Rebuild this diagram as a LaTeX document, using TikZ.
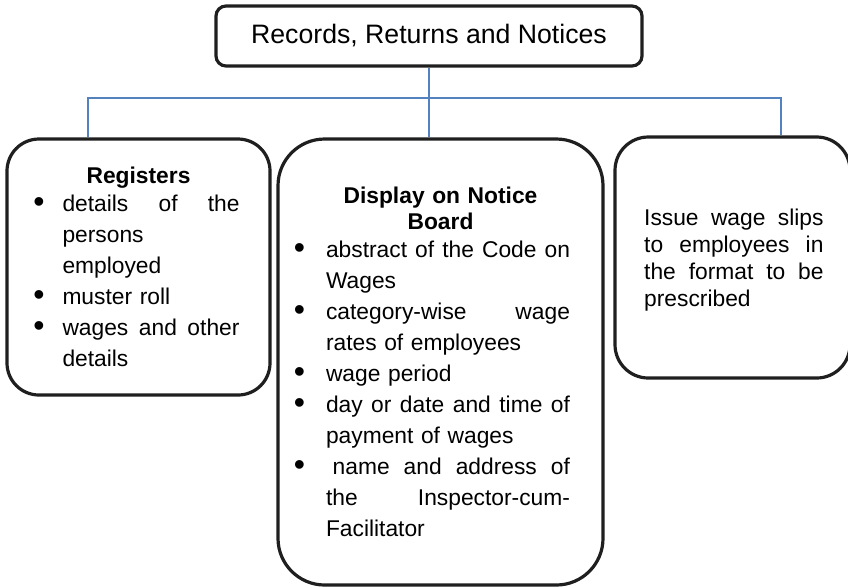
\documentclass[tikz,border=0pt]{standalone}
\usepackage{fontspec}
\setmainfont{Liberation Sans}
\usepackage{enumitem}
\usepackage{tikz}
\usetikzlibrary{backgrounds}

\newcommand\bodyfont{\fontsize{17.1}{23.25}\selectfont}
\newcommand\headgap[1]{\par\prevdepth=\dimexpr\prevdepth+#1\relax}
\newcommand\bigbullet{\raisebox{-0.6pt}{\fontsize{24}{24}\selectfont\textbullet}}
\setlist[itemize]{label=\bigbullet, itemsep=0pt, parsep=0pt, topsep=0pt, partopsep=0pt}

\begin{document}
\begin{tikzpicture}[x=0.75pt,y=-0.75pt,
    box/.style={draw=black!88, line width=2.4pt, inner sep=0pt, font=\bodyfont},
    link/.style={draw={rgb,255:red,84;green,130;blue,190}, line width=1.1pt}]
    \useasboundingbox (0,0) rectangle (848,587);

    % Title
    \node[box, rounded corners=7.5pt, minimum width=319.5pt, minimum height=45pt,
          font=\fontsize{20}{23}\selectfont] (title) at (429,36) {Records, Returns and Notices};

    % Registers
    \node[box, rounded corners=24pt, minimum width=197.25pt, minimum height=192pt,
          text width=151.5pt] (regs) at (138.5,267) {%
        {\centering\bfseries Registers\par}\headgap{2pt}
        \begin{itemize}[leftmargin=18.75pt, labelsep=13.5pt]
            \item details\hfill of\hfill the\\ persons\\ employed
            \item muster roll
            \item wages\hfill and\hfill other\\ details
        \end{itemize}};

    % Display on Notice Board
    \node[box, rounded corners=35pt, minimum width=243.75pt, minimum height=334.5pt,
          text width=213.75pt] (dnb) at (440.5,362) {%
        {\centering\bfseries\fontsize{17.1}{19.5}\selectfont Display on Notice\\ Board\par}\headgap{2pt}
        \begin{itemize}[leftmargin=21pt, labelsep=15.75pt, rightmargin=9.75pt]
            \item abstract\hfill of\hfill the\hfill Code\hfill on\\ Wages
            \item category-wise\hfill wage\\ rates of employees
            \item wage period
            \item day\hfill or\hfill date\hfill and\hfill time\hfill of\\ payment of wages
            \item \hspace*{5pt}name\hfill and\hfill address\hfill of\\ the\hfill Inspector-cum-\\ Facilitator
        \end{itemize}};

    % Wage slips
    \node[box, rounded corners=25pt, minimum width=176.25pt, minimum height=180.75pt,
          text width=136.5pt, font=\fontsize{17.1}{20.25}\selectfont] (slips) at (732.5,257.5) {%
        \hspace*{2pt}\rule{0pt}{17pt}Issue\hfill wage\hfill slips\\ \hspace*{2pt}to\hfill employees\hfill in\\
        \hspace*{2pt}the\hfill format\hfill to\hfill be\\ \hspace*{2pt}prescribed};

    % Connectors
    \coordinate (busL) at (88,98);
    \coordinate (busR) at (781,98);
    \begin{scope}[on background layer]
        \draw[link] (title.south) -- (title.south |- dnb.north);
        \draw[link] (regs.north -| busL) -- (busL) -- (busR) -- (slips.north -| busR);
    \end{scope}
\end{tikzpicture}
\end{document}
